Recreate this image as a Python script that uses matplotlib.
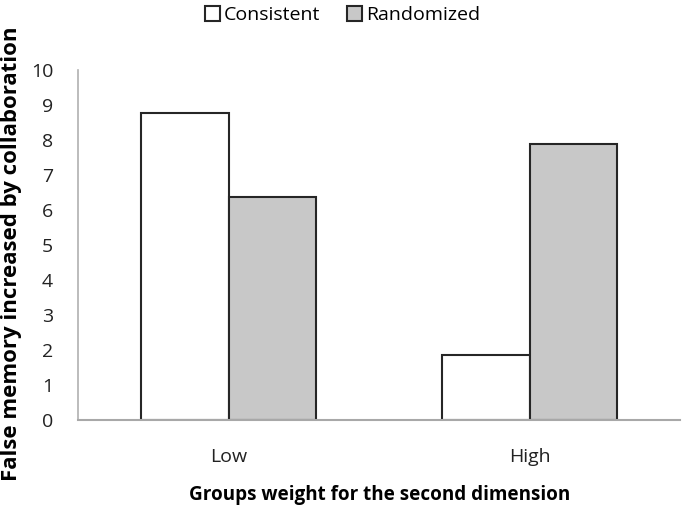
import matplotlib
matplotlib.use("Agg")
import matplotlib.pyplot as plt
import numpy as np

plt.rcParams['font.family'] = ['Open Sans', 'DejaVu Sans']

# data
groups = ["Low", "High"]
consistent = [8.77, 1.86]
randomized = [6.37, 7.89]

fig = plt.figure(figsize=(6.85, 5.07), dpi=100)
ax = fig.add_axes([0.114, 0.172, 0.879, 0.69])

x = np.arange(len(groups))
w = 0.29
ax.bar(x - w/2, consistent, w, color="white", edgecolor="#262626", linewidth=1.5, label="Consistent")
ax.bar(x + w/2, randomized, w, color="#c8c8c8", edgecolor="#262626", linewidth=1.5, label="Randomized")

ax.set_xlim(-0.5, 1.5)
ax.set_ylim(0, 10)
ax.set_yticks(range(0, 11))
ax.set_xticks(x)
ax.set_xticklabels(groups)
ax.tick_params(axis="both", length=0, labelsize=14, colors="#222222")
ax.tick_params(axis="y", pad=18)
ax.tick_params(axis="x", pad=20)

for s in ["top", "right"]:
    ax.spines[s].set_visible(False)
ax.spines["left"].set_color("#b0b0b0")
ax.spines["bottom"].set_color("#a8a8a8")
ax.spines["left"].set_linewidth(1.2)
ax.spines["bottom"].set_linewidth(1.5)

# y label placed on the figure so it sits like the reference
fig.text(0.017, 0.5, "False memory increased by collaboration", rotation=90,
         ha="center", va="center", fontsize=16, fontweight="bold")
ax.set_xlabel("Groups weight for the second dimension", fontsize=13.6, fontweight="bold", labelpad=14)

fig.legend(loc="upper center", bbox_to_anchor=(0.5, 1.022), ncol=2, frameon=False,
           fontsize=14, handlelength=0.75, handleheight=0.75, handletextpad=0.2, columnspacing=1.4)

fig.savefig("out.png", dpi=100)
